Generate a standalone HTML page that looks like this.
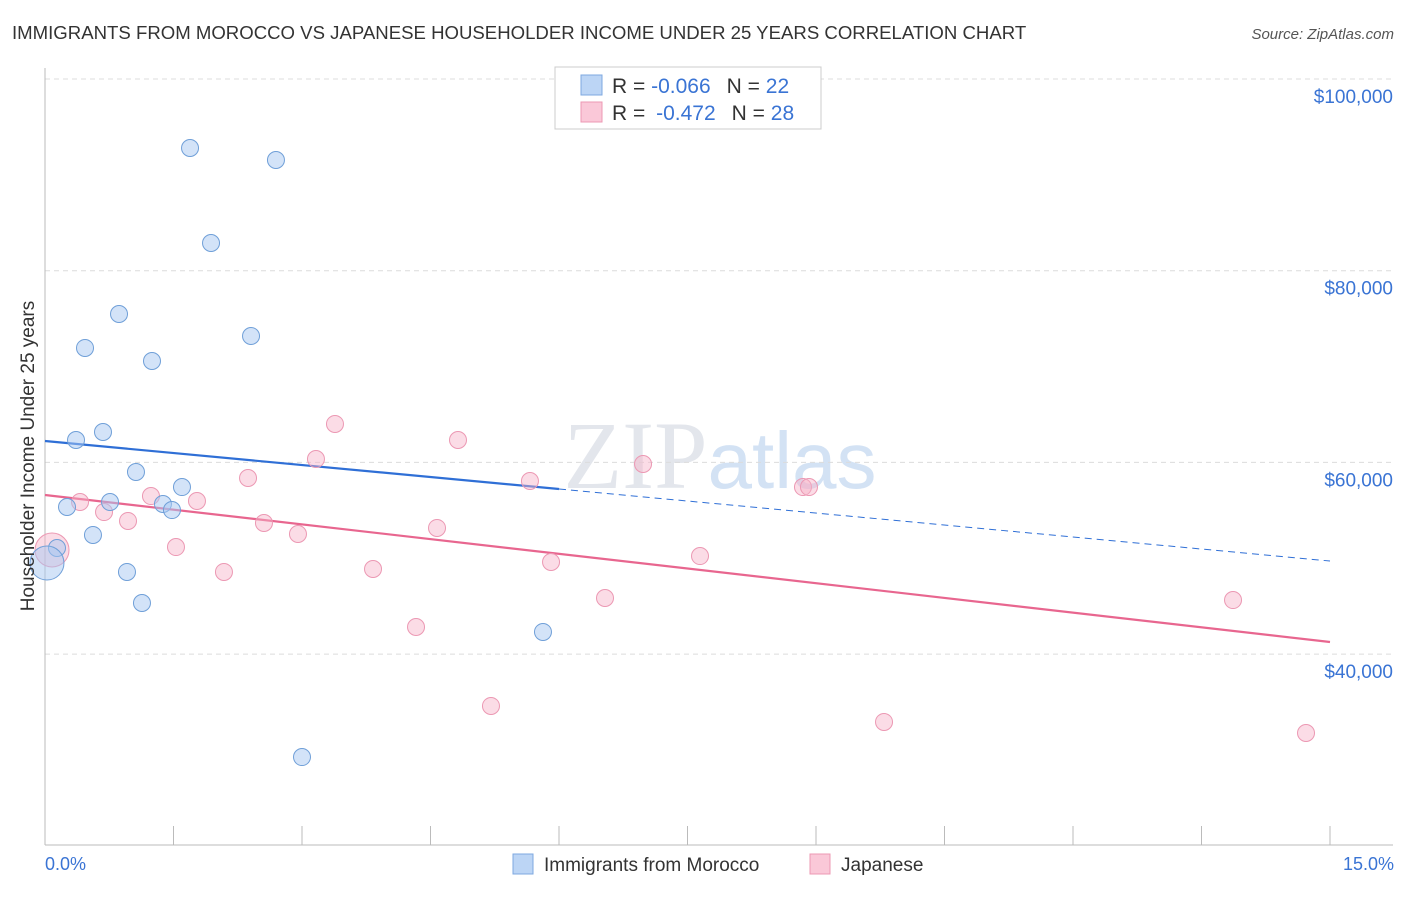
<!DOCTYPE html>
<html><head><meta charset="utf-8"><style>
body{margin:0;background:#fff;font-family:"Liberation Sans",sans-serif;}
svg text{font-family:"Liberation Sans",sans-serif;}
</style></head><body>
<svg id="chart" width="1406" height="892" viewBox="0 0 1406 892" xmlns="http://www.w3.org/2000/svg">
<text x="12" y="39" font-size="18.6" fill="#333">IMMIGRANTS FROM MOROCCO VS JAPANESE HOUSEHOLDER INCOME UNDER 25 YEARS CORRELATION CHART</text>
<text x="1394" y="39" font-size="15" fill="#555" text-anchor="end" font-style="italic">Source: ZipAtlas.com</text>
<text x="720" y="488" font-size="96" text-anchor="middle" fill="#e3e6ec"><tspan font-family="Liberation Serif">ZIP</tspan><tspan fill="#d3e2f4" font-size="80">atlas</tspan></text>
<g id="grid"></g>
<g id="axes"></g>
<g id="trend"></g>
<g id="points"></g>
<text transform="translate(34,456) rotate(-90)" font-size="19" fill="#333" text-anchor="middle">Householder Income Under 25 years</text>
<text x="45" y="870" font-size="18" fill="#3a74d4">0.0%</text>
<text x="1394" y="870" font-size="18" fill="#3a74d4" text-anchor="end">15.0%</text>
<g>
<rect x="555" y="67" width="266" height="62" fill="#fff" stroke="#ccc"/>
<rect x="581" y="75" width="21" height="20" fill="#bcd5f5" stroke="#7ea8e0"/>
<rect x="581" y="102" width="21" height="20" fill="#fac8d8" stroke="#ec98b3"/>
<text x="612" y="93" font-size="21" fill="#333">R = <tspan fill="#3a74d4">-0.066</tspan><tspan dx="16">N = </tspan><tspan fill="#3a74d4">22</tspan></text>
<text x="612" y="120" font-size="21" fill="#333">R = <tspan fill="#3a74d4" dx="5">-0.472</tspan><tspan dx="16">N = </tspan><tspan fill="#3a74d4">28</tspan></text>
</g>
<g>
<rect x="513" y="854" width="20" height="20" fill="#bcd5f5" stroke="#7ea8e0"/>
<text x="544" y="871" font-size="19" fill="#333">Immigrants from Morocco</text>
<rect x="810" y="854" width="20" height="20" fill="#fac8d8" stroke="#ec98b3"/>
<text x="841" y="871" font-size="19" fill="#333">Japanese</text>
</g>
</svg>
<script>
const yTicks=[100000,80000,60000,40000];
const yTickLabels=["$100,000","$80,000","$60,000","$40,000"];
const xTicks=[0,1.5,3,4.5,6,7.5,9,10.5,12,13.5,15];
const blueX=[1.693,2.696,1.938,0.864,0.467,2.405,1.249,0.362,0.677,1.062,1.599,0.759,1.377,1.482,0.257,0.560,0.140,0.023,0.957,1.132,5.813,3.000];
const blueY=[92800,91550,82890,75480,71940,73190,70580,62340,63170,59000,57430,55870,55660,55030,55350,52430,51070,49500,48570,45330,42310,29260];
const blueR=[8.5,8.5,8.5,8.5,8.5,8.5,8.5,8.5,8.5,8.5,8.5,8.5,8.5,8.5,8.5,8.5,8.5,17,8.5,8.5,8.5,8.5];
const pinkX=[0.409,0.689,0.969,1.237,1.774,1.529,2.089,2.370,2.556,2.953,3.163,3.385,3.829,4.331,4.576,4.821,5.206,5.661,5.907,6.537,6.981,7.646,8.848,8.918,9.794,13.868,14.720,0.082];
const pinkY=[55870,54820,53890,56490,55970,51170,48570,58370,53680,52530,60350,64010,48880,42830,53160,62340,34590,58060,49610,45850,59830,50230,57430,57430,32920,45640,31770,50860];
const pinkR=[8.5,8.5,8.5,8.5,8.5,8.5,8.5,8.5,8.5,8.5,8.5,8.5,8.5,8.5,8.5,8.5,8.5,8.5,8.5,8.5,8.5,8.5,8.5,8.5,8.5,8.5,8.5,17];
const blueTrend=[62230,49710];
const blueSolidEnd=6;
const pinkTrend=[56600,41260];
const NS="http://www.w3.org/2000/svg";
const X=v=>45+v/15*1285;
const Y=v=>79+(100000-v)*191.7/20000;
function mk(tag,attrs,parent){const e=document.createElementNS(NS,tag);for(const k in attrs)e.setAttribute(k,attrs[k]);parent.appendChild(e);return e;}
const grid=document.getElementById('grid'),axes=document.getElementById('axes'),trend=document.getElementById('trend'),pts=document.getElementById('points');
yTicks.forEach((t,i)=>{
 const l=mk('line',{x1:45,x2:1393,y1:Y(t),y2:Y(t),stroke:'#dcdcdc','stroke-dasharray':'5,4'},grid);
 
 
 const tx=mk('text',{x:1393,y:Y(t)+24,'font-size':19,fill:'#3a74d4','text-anchor':'end'},grid);
 tx.textContent=yTickLabels[i];
 
 
});
const ax=mk('line',{x1:45,x2:1393,y1:845,y2:845,stroke:'#bbb'},axes);


const ay=mk('line',{x1:45,x2:45,y1:68,y2:845,stroke:'#bbb'},axes);


xTicks.forEach(t=>{
 const l=mk('line',{x1:X(t),x2:X(t),y1:826,y2:845,stroke:'#bbb'},axes);
 
 
});
function tline(a,b,x0,x1,color,dash,name){
 const y0=a+(b-a)*x0/15,y1=a+(b-a)*x1/15;
 const l=mk('line',{x1:X(x0),x2:X(x1),y1:Y(y0),y2:Y(y1),stroke:color,'stroke-width':dash?1:2.2},trend);
 if(dash)l.setAttribute('stroke-dasharray','7,5');
 
 
}
tline(blueTrend[0],blueTrend[1],0,blueSolidEnd,'#2f6fd6',false,'morocco-trend-line');
tline(blueTrend[0],blueTrend[1],blueSolidEnd,15,'#2f6fd6',true,'morocco-trend-extension');
tline(pinkTrend[0],pinkTrend[1],0,15,'#e8668f',false,'japanese-trend-line');
pinkX.forEach((x,i)=>{
 const c=mk('circle',{cx:X(x),cy:Y(pinkY[i]),r:pinkR[i],fill:'rgba(246,178,200,0.45)',stroke:'#ec98b3','stroke-width':1},pts);
 
 
});
blueX.forEach((x,i)=>{
 const c=mk('circle',{cx:X(x),cy:Y(blueY[i]),r:blueR[i],fill:'rgba(168,200,242,0.5)',stroke:'#6f9fd8','stroke-width':1},pts);
 
 
});
</script>
</body></html>
